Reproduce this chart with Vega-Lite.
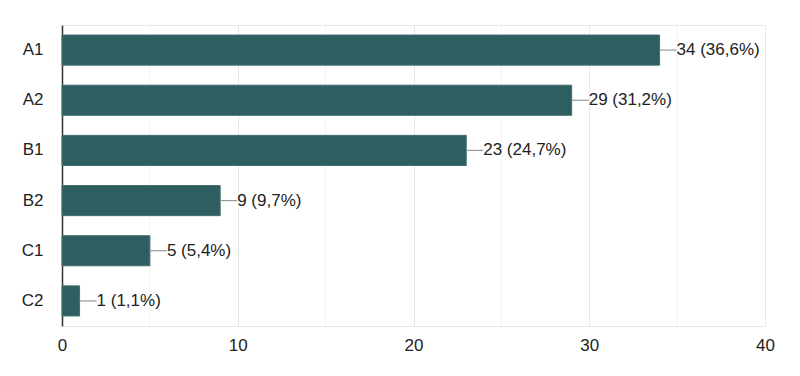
{
  "$schema": "https://vega.github.io/schema/vega-lite/v6.json",
  "width": 703,
  "height": 301,
  "autosize": "none",
  "padding": {"left": 62, "top": 25, "right": 35, "bottom": 50},
  "background": "white",
  "config": {
    "view": {"stroke": "#e8e8e8"},
    "font": "Liberation Sans"
  },
  "datasets": {
    "main": [
      {"cat": "A1", "value": 34, "label": "34 (36,6%)"},
      {"cat": "A2", "value": 29, "label": "29 (31,2%)"},
      {"cat": "B1", "value": 23, "label": "23 (24,7%)"},
      {"cat": "B2", "value": 9, "label": "9 (9,7%)"},
      {"cat": "C1", "value": 5, "label": "5 (5,4%)"},
      {"cat": "C2", "value": 1, "label": "1 (1,1%)"}
    ],
    "minor": [{"v": 5}, {"v": 15}, {"v": 25}, {"v": 35}]
  },
  "layer": [
    {
      "data": {"name": "minor"},
      "mark": {"type": "rule", "color": "#f3f3f3", "strokeWidth": 1},
      "encoding": {
        "x": {"field": "v", "type": "quantitative", "scale": {"domain": [0, 40]}}
      }
    },
    {
      "data": {"name": "main"},
      "mark": {"type": "bar", "color": "#2e5e60", "stroke": "#3f6e70", "strokeWidth": 1},
      "encoding": {
        "y": {
          "field": "cat", "type": "nominal", "sort": null,
          "scale": {"paddingInner": 0.4, "paddingOuter": 0.2},
          "axis": {
            "title": null, "ticks": false, "labelPadding": 19,
            "labelFontSize": 17, "labelColor": "#222222",
            "domainColor": "#333333", "domainWidth": 1.5
          }
        },
        "x": {
          "field": "value", "type": "quantitative",
          "scale": {"domain": [0, 40], "nice": false},
          "axis": {
            "title": null, "values": [0, 10, 20, 30, 40], "ticks": false,
            "domain": false, "gridColor": "#e8e8e8",
            "labelFontSize": 17, "labelColor": "#222222", "labelPadding": 11,
            "labelFlush": false
          }
        }
      }
    },
    {
      "data": {"name": "main"},
      "mark": {"type": "rule", "color": "#999999", "strokeWidth": 1.2, "x2Offset": 17},
      "encoding": {
        "y": {"field": "cat", "type": "nominal", "sort": null, "bandPosition": 0.5},
        "x": {"field": "value", "type": "quantitative"},
        "x2": {"field": "value"}
      }
    },
    {
      "data": {"name": "main"},
      "mark": {"type": "text", "align": "left", "baseline": "middle", "dx": 17, "fontSize": 17, "color": "#222222"},
      "encoding": {
        "y": {"field": "cat", "type": "nominal", "sort": null},
        "x": {"field": "value", "type": "quantitative"},
        "text": {"field": "label"}
      }
    }
  ]
}
